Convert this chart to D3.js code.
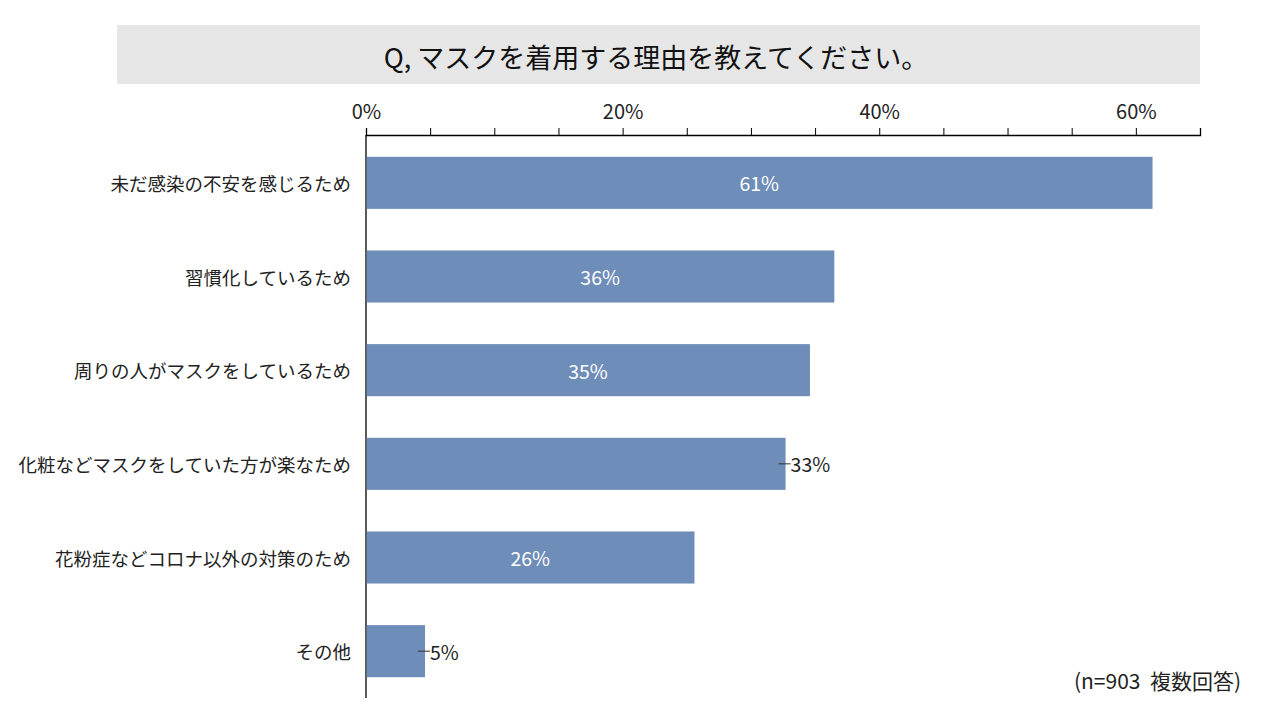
<!DOCTYPE html>
<html><head><meta charset="utf-8">
<script src="https://cdn.jsdelivr.net/npm/d3@7"></script>
<style>body{margin:0;background:#fff;} svg{display:block;} text{white-space:pre;}</style>
</head><body>
<svg id="c" width="1280" height="720"></svg>
<script>
const title = "Q, マスクを着用する理由を教えてください。";
const categories = ["未だ感染の不安を感じるため","習慣化しているため","周りの人がマスクをしているため","化粧などマスクをしていた方が楽なため","花粉症などコロナ以外の対策のため","その他"];
const values = [61.3, 36.5, 34.6, 32.7, 25.6, 4.6];
const valueLabels = ["61%","36%","35%","33%","26%","5%"];
const labelOutside = [false,false,false,true,false,true];
const tickValues = [0,5,10,15,20,25,30,35,40,45,50,55,60,65];
const tickLabelValues = [0,20,40,60];
const note = "(n=903  複数回答)";

const svg = d3.select("#c");
const font = "'Noto Sans CJK JP', 'Noto Sans', sans-serif";

svg.append("rect").attr("x",117).attr("y",25).attr("width",1083).attr("height",59).attr("fill","#e6e6e6");
svg.append("text").attr("x",656).attr("y",56).attr("text-anchor","middle").attr("dominant-baseline","central")
  .attr("font-family",font).attr("font-size",27).attr("fill","#111").text(title);

const x = d3.scaleLinear().domain([0,65]).range([366,1200]);
const y = d3.scaleBand().domain(categories).range([136,698]).paddingInner(0.444).paddingOuter(0.222);

const xAxis = d3.axisTop(x).tickValues(tickValues).tickSize(7).tickFormat(d => tickLabelValues.includes(d) ? d+"%" : "");
const gx = svg.append("g").attr("transform","translate(0,135)").call(xAxis);
gx.select(".domain").attr("stroke","#000").attr("stroke-width",1.3);
gx.selectAll(".tick line").attr("stroke","#000");
gx.selectAll(".tick text").attr("font-family",font).attr("font-size",20).attr("fill","#222").attr("y",-16).attr("dy","0");

svg.append("line").attr("x1",366).attr("x2",366).attr("y1",135).attr("y2",698).attr("stroke","#000").attr("stroke-width",1.3);

svg.selectAll("rect.bar").data(categories).enter().append("rect").attr("class","bar")
  .attr("x",x(0)+0.7).attr("y",d=>y(d)).attr("height",y.bandwidth())
  .attr("width",(d,i)=>x(values[i])-x(0)-0.7).attr("fill","#6e8db9");

svg.selectAll("text.cat").data(categories).enter().append("text").attr("class","cat")
  .attr("x",351).attr("y",d=>y(d)+y.bandwidth()/2).attr("text-anchor","end").attr("dominant-baseline","central")
  .attr("font-family",font).attr("font-size",18.5).attr("fill","#222").text(d=>d);

categories.forEach((c,i)=>{
  const cy = y(c)+y.bandwidth()/2;
  if(labelOutside[i]){
    const xe = x(values[i]);
    svg.append("line").attr("x1",xe-7).attr("x2",xe+5).attr("y1",cy).attr("y2",cy).attr("stroke","#333").attr("stroke-width",1);
    svg.append("text").attr("x",xe+5).attr("y",cy).attr("dominant-baseline","central")
      .attr("font-family",font).attr("font-size",19.5).attr("fill","#222").text(valueLabels[i]);
  } else {
    svg.append("text").attr("x",(x(0)+x(values[i]))/2).attr("y",cy).attr("text-anchor","middle").attr("dominant-baseline","central")
      .attr("font-family",font).attr("font-size",19.5).attr("fill","#fff").text(valueLabels[i]);
  }
});

svg.append("text").attr("x",1241).attr("y",680).attr("text-anchor","end").attr("dominant-baseline","central")
  .attr("font-family",font).attr("font-size",21).attr("fill","#222").text(note);
</script>
</body></html>
